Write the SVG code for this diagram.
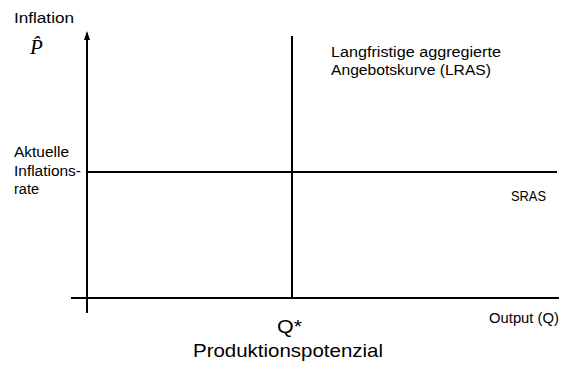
<svg xmlns="http://www.w3.org/2000/svg" width="566" height="365" viewBox="0 0 566 365">
<style>
.ln{stroke:#000;stroke-width:2;fill:none}
.t{font-family:"Liberation Sans",Arial,sans-serif;font-size:14px;fill:#000}
.big{font-size:19px}
</style>
<rect width="566" height="365" fill="#fff"/>
<g id="connectors">
<line class="ln" x1="87" y1="313" x2="87" y2="33"/>
<path d="M84,40 L87,31 L90,40 Z" fill="#000"/>
<line class="ln" x1="71" y1="298" x2="559" y2="298"/>
<line class="ln" x1="87" y1="172" x2="557" y2="172"/>
<line class="ln" x1="292" y1="36" x2="292" y2="298"/>
</g>
<g id="y-axis-label">
<text class="t" x="14" y="23" textLength="60" lengthAdjust="spacingAndGlyphs">Inflation</text>
<text x="30" y="54" font-family="'Liberation Serif','Times New Roman',serif" font-style="italic" font-size="21">P̂</text>
</g>
<g id="current-inflation">
<text class="t" x="14" y="157" textLength="55" lengthAdjust="spacingAndGlyphs">Aktuelle</text>
<text class="t" x="14" y="176" textLength="67" lengthAdjust="spacingAndGlyphs">Inflations-</text>
<text class="t" x="14" y="194" textLength="25" lengthAdjust="spacingAndGlyphs">rate</text>
</g>
<g id="lras">
<text class="t" x="331" y="57" textLength="170" lengthAdjust="spacingAndGlyphs">Langfristige aggregierte</text>
<text class="t" x="331" y="75" textLength="160" lengthAdjust="spacingAndGlyphs">Angebotskurve (LRAS)</text>
</g>
<g id="sras">
<text class="t" x="511" y="201" textLength="35" lengthAdjust="spacingAndGlyphs">SRAS</text>
</g>
<g id="x-axis-label">
<text class="t" x="489" y="323" textLength="70" lengthAdjust="spacingAndGlyphs">Output (Q)</text>
</g>
<g id="qstar">
<text class="t big" x="277" y="333" textLength="25" lengthAdjust="spacingAndGlyphs">Q*</text>
<text class="t big" x="193" y="357" textLength="190" lengthAdjust="spacingAndGlyphs">Produktionspotenzial</text>
</g>
</svg>
